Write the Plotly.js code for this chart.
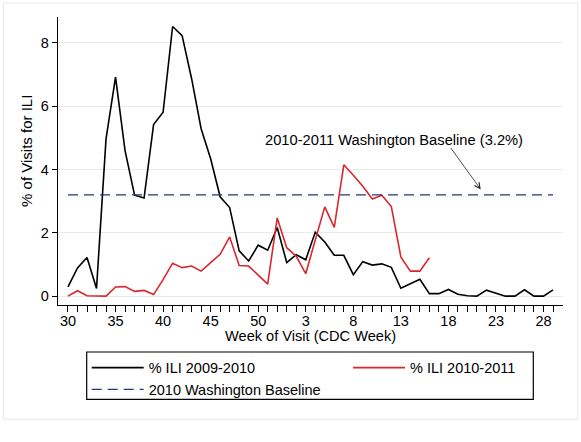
<!DOCTYPE html>
<html>
<head>
<meta charset="utf-8">
<script src="https://cdn.plot.ly/plotly-3.0.1.min.js"></script>
<style>
html,body{margin:0;padding:0;background:#fff;}
#chart{width:581px;height:442px;}
</style>
</head>
<body>
<div id="chart"></div>
<script>
// CDC week numbers, season runs week 30 -> week 29 of next year
const weeks = [30,31,32,33,34,35,36,37,38,39,40,41,42,43,44,45,46,47,48,49,50,51,52,
               1,2,3,4,5,6,7,8,9,10,11,12,13,14,15,16,17,18,19,20,21,22,23,24,25,26,27,28,29];
const tickLabelWeeks = [30,35,40,45,50,3,8,13,18,23,28];

const ili2009_2010 = [0.29,0.89,1.22,0.24,4.97,6.92,4.60,3.19,3.10,5.42,5.81,8.52,8.23,6.87,5.29,4.34,3.14,2.80,1.43,1.11,
                      1.61,1.45,2.17,1.06,1.31,1.15,2.02,1.71,1.29,1.29,0.68,1.09,0.98,1.02,0.91,0.25,0.39,0.53,0.08,0.08,
                      0.21,0.06,0.01,0.00,0.19,0.09,0.00,0.00,0.20,0.00,0.00,0.20];
const ili2010_2011 = [0.00,0.17,0.01,0.00,0.00,0.29,0.30,0.15,0.18,0.05,0.52,1.04,0.90,0.95,0.79,1.06,1.32,1.87,0.97,0.95,
                      0.67,0.38,2.47,1.53,1.26,0.71,1.77,2.82,2.17,4.15,3.82,3.47,3.07,3.19,2.83,1.24,0.79,0.79,1.21];
const baselineValue = 3.2;

const cats = weeks.map(String);
const font = "Liberation Sans, Arial, Helvetica, sans-serif";

const traces = [
  {x: cats.slice(0, ili2009_2010.length), y: ili2009_2010, type: 'scatter', mode: 'lines',
   name: '% ILI 2009-2010', legend: 'legend', line: {color: '#000000', width: 1.6}},
  {x: cats.slice(0, ili2010_2011.length), y: ili2010_2011, type: 'scatter', mode: 'lines',
   name: '% ILI 2010-2011', legend: 'legend2', line: {color: '#d9272e', width: 1.6}},
  {x: [cats[0], cats[cats.length-1]], y: [baselineValue, baselineValue], type: 'scatter', mode: 'lines',
   name: '2010 Washington Baseline', legend: 'legend', line: {color: '#22386f', width: 1.3, dash: '10px,6px'}}
];

const legendFont = {family: font, size: 14.5, color: '#000'};
const layout = {
  width: 581, height: 442,
  margin: {l: 58, r: 18, t: 17, b: 137},
  paper_bgcolor: '#ffffff', plot_bgcolor: '#ffffff',
  font: {family: font, size: 14, color: '#000'},
  showlegend: true,
  legend: {
    orientation: 'v', x: 0.0568, xanchor: 'left', y: -0.162, yanchor: 'top',
    itemwidth: 52, borderwidth: 0, bgcolor: 'rgba(0,0,0,0)', font: legendFont, tracegroupgap: 0
  },
  legend2: {
    orientation: 'v', x: 0.5743, xanchor: 'left', y: -0.162, yanchor: 'top',
    itemwidth: 52, borderwidth: 0, bgcolor: 'rgba(0,0,0,0)', font: legendFont, tracegroupgap: 0
  },
  xaxis: {
    type: 'category', categoryorder: 'array', categoryarray: cats,
    range: [-1.05, 52.05],
    tickmode: 'array', tickvals: cats,
    ticktext: weeks.map(w => tickLabelWeeks.includes(w) ? String(w) : ''),
    ticks: 'outside', ticklen: 6, tickwidth: 1, tickcolor: '#000',
    ticklabelstandoff: -4,
    showline: true, linecolor: '#000', linewidth: 1.2,
    showgrid: false, zeroline: false,
    tickfont: {family: font, size: 14.5, color: '#000'}
  },
  yaxis: {
    range: [-0.28, 8.82],
    tickmode: 'array', tickvals: [0,2,4,6,8],
    ticks: 'outside', ticklen: 5, tickwidth: 1, tickcolor: '#000',
    showline: true, linecolor: '#000', linewidth: 1.2,
    showgrid: true, gridcolor: '#eaeaea', gridwidth: 1, zeroline: false,
    tickfont: {family: font, size: 14.5, color: '#000'}
  },
  annotations: [
    {xref: 'paper', yref: 'paper', x: 0.5, y: 0, yanchor: 'middle', yshift: -31,
     text: 'Week of Visit (CDC Week)', showarrow: false, font: {family: font, size: 14.6, color: '#000'}},
    {xref: 'paper', yref: 'paper', x: 0, y: 0.535, xanchor: 'center', xshift: -31, textangle: -90,
     text: '% of Visits for ILI', showarrow: false, font: {family: font, size: 15, color: '#000'}},
    {xref: 'x', yref: 'y', x: 34.28, y: 4.94, text: '2010-2011 Washington Baseline (3.2%)',
     showarrow: false, font: {family: font, size: 14.7, color: '#000'}},
    {xref: 'x', yref: 'y', x: 43.4, y: 3.37, text: '', showarrow: true,
     ax: -31, ay: -43, arrowhead: 5, arrowsize: 1.4, arrowwidth: 0.8, arrowcolor: '#222', standoff: 0}
  ],
  shapes: [
    {type: 'rect', xref: 'paper', yref: 'paper', x0: 0.0568, x1: 0.9412, y0: -0.3274, y1: -0.1632,
     line: {color: '#000', width: 1.2}, fillcolor: 'rgba(0,0,0,0)'},
    {type: 'rect', xref: 'paper', yref: 'paper', x0: -0.1083, x1: 1.0291, y0: -0.3969, y1: 1.0486,
     line: {color: '#e4e8ec', width: 1}, fillcolor: 'rgba(0,0,0,0)'}
  ]
};

Plotly.newPlot('chart', traces, layout, {displayModeBar: false, staticPlot: true});
</script>
</body>
</html>
